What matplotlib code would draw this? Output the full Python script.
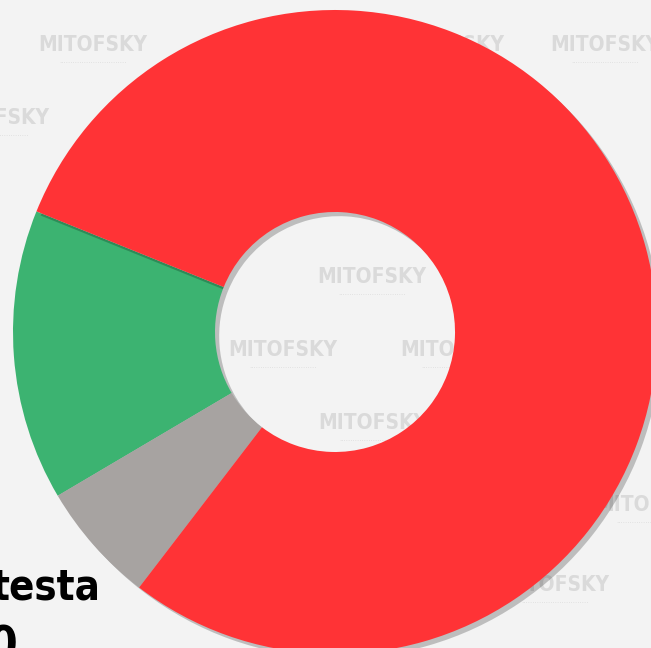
import matplotlib
matplotlib.use('Agg')
import matplotlib.pyplot as plt
import matplotlib.patheffects as pe

# porcentajes (verde, gris, rojo)
categorias = ['Verde', 'Gris', 'Rojo']
valores = [14.6, 6.1, 79.3]
colores = ['#3CB371', '#A7A3A1', '#FF3336']
separar = [0, 0, 0.02]

# marca de agua del fondo (posiciones en pixeles)
marcas_x = [93, 605, -5, 372, 283, 455, 373, 650, 555, 450]
marcas_y = [45, 45, 118, 277, 350, 350, 423, 505, 585, 45]

W, H = 651, 648
fig = plt.figure(figsize=(W / 100, H / 100), dpi=100)
fig.patch.set_facecolor('#F3F3F3')
ax = fig.add_axes([0, 0, 1, 1])
ax.set_facecolor('#F3F3F3')

fuente = dict(family='DejaVu Sans', fontstretch='condensed', fontweight='bold')

for mx, my in zip(marcas_x, marcas_y):
    ax.text(mx, H - my, 'MITOFSKY', ha='center', va='center', fontsize=15,
            color='#DADADA', zorder=0, **fuente)
    ax.text(mx, H - my - 16, '.' * 30, ha='center', va='center', fontsize=5,
            color='#DADADA', zorder=0)

wedges, _ = ax.pie(valores, colors=colores, startangle=158, counterclock=True,
                   radius=322, center=(335, H - 332), explode=separar,
                   wedgeprops=dict(width=202, edgecolor='none'))
for w in wedges:
    w.set_zorder(2)
    w.set_path_effects([pe.SimplePatchShadow(offset=(3, -3), shadow_rgbFace='k', alpha=0.22),
                        pe.Normal()])

ax.text(100, H - 600, 'testa', ha='right', va='baseline', fontsize=30,
        color='black', zorder=3, **fuente)
ax.text(18, H - 660, '0', ha='right', va='baseline', fontsize=33,
        color='black', zorder=3, **fuente)

ax.set_xlim(0, W)
ax.set_ylim(0, H)
ax.set_aspect('auto')
ax.axis('off')

plt.savefig('out.png', dpi=100, facecolor=fig.get_facecolor())
